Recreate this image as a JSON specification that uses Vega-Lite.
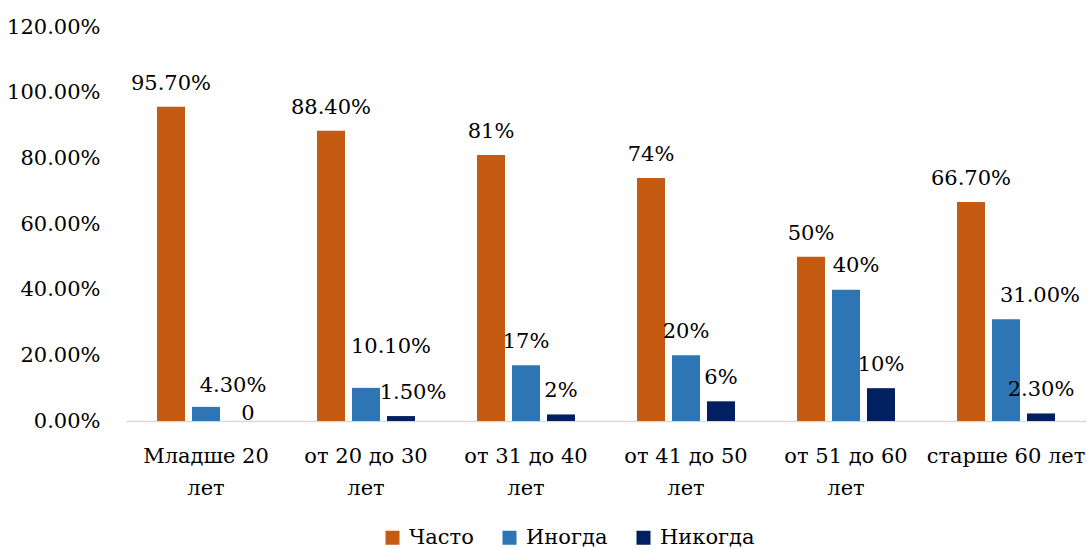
{
  "$schema": "https://vega.github.io/schema/vega-lite/v6.json",
  "width": 960,
  "height": 394,
  "autosize": {"type": "none"},
  "padding": {"left": 126, "top": 27, "right": 1, "bottom": 128},
  "background": "white",
  "config": {
    "font": "DejaVu Serif",
    "view": {"stroke": null},
    "text": {"font": "DejaVu Serif"},
    "axis": {"labelFont": "DejaVu Serif", "labelFontSize": 21, "labelColor": "#000000", "title": null},
    "legend": {"labelFont": "DejaVu Serif", "labelFontSize": 21, "labelColor": "#000000"}
  },
  "data": {
    "values": [
      {"age": "Младше 20 лет", "series": "Часто", "value": 0.957, "label": "95.70%"},
      {"age": "Младше 20 лет", "series": "Иногда", "value": 0.043, "label": "4.30%"},
      {"age": "Младше 20 лет", "series": "Никогда", "value": 0, "label": "0"},
      {"age": "от 20 до 30 лет", "series": "Часто", "value": 0.884, "label": "88.40%"},
      {"age": "от 20 до 30 лет", "series": "Иногда", "value": 0.101, "label": "10.10%"},
      {"age": "от 20 до 30 лет", "series": "Никогда", "value": 0.015, "label": "1.50%"},
      {"age": "от 31 до 40 лет", "series": "Часто", "value": 0.81, "label": "81%"},
      {"age": "от 31 до 40 лет", "series": "Иногда", "value": 0.17, "label": "17%"},
      {"age": "от 31 до 40 лет", "series": "Никогда", "value": 0.02, "label": "2%"},
      {"age": "от 41 до 50 лет", "series": "Часто", "value": 0.74, "label": "74%"},
      {"age": "от 41 до 50 лет", "series": "Иногда", "value": 0.2, "label": "20%"},
      {"age": "от 41 до 50 лет", "series": "Никогда", "value": 0.06, "label": "6%"},
      {"age": "от 51 до 60 лет", "series": "Часто", "value": 0.5, "label": "50%"},
      {"age": "от 51 до 60 лет", "series": "Иногда", "value": 0.4, "label": "40%"},
      {"age": "от 51 до 60 лет", "series": "Никогда", "value": 0.1, "label": "10%"},
      {"age": "старше 60 лет", "series": "Часто", "value": 0.667, "label": "66.70%"},
      {"age": "старше 60 лет", "series": "Иногда", "value": 0.31, "label": "31.00%"},
      {"age": "старше 60 лет", "series": "Никогда", "value": 0.023, "label": "2.30%"}
    ]
  },
  "encoding": {
    "x": {
      "field": "age", "type": "nominal", "sort": null,
      "scale": {"paddingInner": 0.3875, "paddingOuter": 0.19375},
      "axis": {
        "labelAngle": 0, "ticks": false, "domainColor": "#d9d9d9", "domainWidth": 1.5,
        "labelPadding": 24, "labelLineHeight": 32, "labelBaseline": "top",
        "labelExpr": "datum.value === 'старше 60 лет' ? datum.value : [replace(datum.value, ' лет', ''), 'лет']"
      }
    },
    "xOffset": {
      "field": "series", "type": "nominal", "sort": ["Часто", "Иногда", "Никогда"],
      "scale": {"paddingInner": 0.2, "paddingOuter": 0}
    },
    "y": {
      "field": "value", "type": "quantitative",
      "scale": {"domain": [0, 1.2], "nice": false},
      "axis": {
        "values": [0, 0.2, 0.4, 0.6, 0.8, 1.0, 1.2], "format": ".2%",
        "domain": false, "ticks": false, "grid": false, "labelPadding": 26
      }
    }
  },
  "layer": [
    {
      "mark": {"type": "bar"},
      "encoding": {
        "color": {
          "field": "series", "type": "nominal",
          "sort": ["Часто", "Иногда", "Никогда"],
          "scale": {"domain": ["Часто", "Иногда", "Никогда"], "range": ["#C55A11", "#2E75B6", "#002060"]},
          "legend": {
            "title": null, "orient": "none", "direction": "horizontal",
            "legendX": 256, "legendY": 500,
            "symbolType": "square", "symbolSize": 196, "symbolStrokeWidth": 0,
            "labelOffset": 6, "columnPadding": 25
          }
        }
      }
    },
    {
      "transform": [{"filter": "indexof(['4.30%','0','10.10%','1.50%','40%','31.00%'], datum.label) < 0"}],
      "mark": {"type": "text", "baseline": "alphabetic", "dy": -17, "fontSize": 21, "color": "#000000"},
      "encoding": {"text": {"field": "label"}}
    },
    {
      "transform": [{"filter": "datum.label === '4.30%'"}],
      "mark": {"type": "text", "baseline": "alphabetic", "dx": 27, "dy": -15, "fontSize": 21, "color": "#000000"},
      "encoding": {"text": {"field": "label"}}
    },
    {
      "transform": [{"filter": "datum.label === '0'"}],
      "mark": {"type": "text", "baseline": "alphabetic", "dx": 7, "dy": -1, "fontSize": 21, "color": "#000000"},
      "encoding": {"text": {"field": "label"}}
    },
    {
      "transform": [{"filter": "datum.label === '10.10%'"}],
      "mark": {"type": "text", "baseline": "alphabetic", "dx": 25, "dy": -35, "fontSize": 21, "color": "#000000"},
      "encoding": {"text": {"field": "label"}}
    },
    {
      "transform": [{"filter": "datum.label === '1.50%'"}],
      "mark": {"type": "text", "baseline": "alphabetic", "dx": 12, "dy": -17, "fontSize": 21, "color": "#000000"},
      "encoding": {"text": {"field": "label"}}
    },
    {
      "transform": [{"filter": "datum.label === '40%'"}],
      "mark": {"type": "text", "baseline": "alphabetic", "dx": 10, "dy": -18, "fontSize": 21, "color": "#000000"},
      "encoding": {"text": {"field": "label"}}
    },
    {
      "transform": [{"filter": "datum.label === '31.00%'"}],
      "mark": {"type": "text", "baseline": "alphabetic", "dx": 34, "dy": -17, "fontSize": 21, "color": "#000000"},
      "encoding": {"text": {"field": "label"}}
    }
  ]
}
